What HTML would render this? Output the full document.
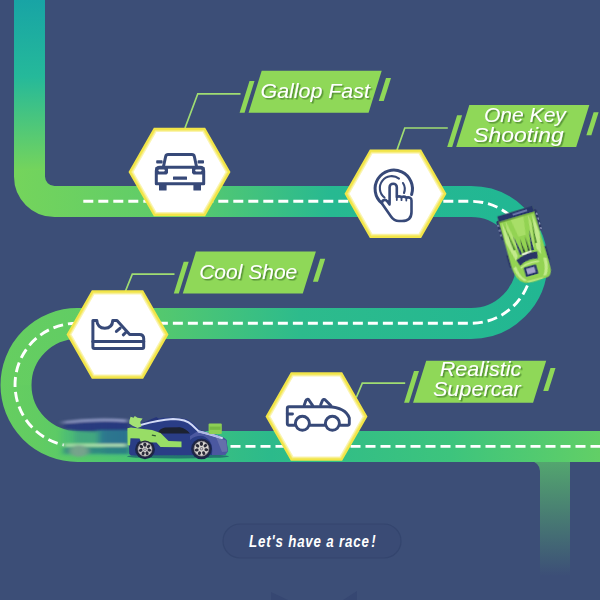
<!DOCTYPE html>
<html><head><meta charset="utf-8">
<style>
html,body{margin:0;padding:0;background:#3c4e77;}
body{width:600px;height:600px;overflow:hidden;position:relative;font-family:"Liberation Sans",sans-serif;}
svg{position:absolute;left:0;top:0;}
.lbl{font-family:"Liberation Sans",sans-serif;font-style:italic;font-size:21px;fill:#fff;}
</style></head><body>
<svg width="600" height="600" viewBox="0 0 600 600">
<defs>
  <linearGradient id="gA" x1="0" y1="0" x2="0" y2="170" gradientUnits="userSpaceOnUse">
    <stop offset="0" stop-color="#18a4a5"/><stop offset="0.45" stop-color="#25b99a"/><stop offset="1" stop-color="#74d45c"/>
  </linearGradient>
  <linearGradient id="gB" x1="0" y1="0" x2="600" y2="0" gradientUnits="userSpaceOnUse">
    <stop offset="0.03" stop-color="#74d45c"/><stop offset="0.3" stop-color="#5ccb6b"/><stop offset="0.55" stop-color="#27b991"/><stop offset="1" stop-color="#1fb694"/>
  </linearGradient>
  <linearGradient id="gC" x1="0" y1="0" x2="600" y2="0" gradientUnits="userSpaceOnUse">
    <stop offset="0" stop-color="#66ce60"/><stop offset="0.2" stop-color="#5fcc66"/><stop offset="0.5" stop-color="#2dbb8c"/><stop offset="1" stop-color="#1fb694"/>
  </linearGradient>
  <linearGradient id="gD" x1="0" y1="0" x2="600" y2="0" gradientUnits="userSpaceOnUse">
    <stop offset="0" stop-color="#66ce60"/><stop offset="0.06" stop-color="#62cc62"/><stop offset="0.2" stop-color="#4cc572"/><stop offset="0.45" stop-color="#2cba8b"/><stop offset="0.75" stop-color="#3dc47d"/><stop offset="1" stop-color="#62cf66"/>
  </linearGradient>
  <linearGradient id="gF" x1="0" y1="461" x2="0" y2="576" gradientUnits="userSpaceOnUse">
    <stop offset="0" stop-color="#5bc46c" stop-opacity="0.75"/><stop offset="1" stop-color="#5bc46c" stop-opacity="0"/>
  </linearGradient>
  <mask id="road" maskUnits="userSpaceOnUse" x="0" y="0" width="600" height="600">
    <path id="rp" d="M29.5 -20 V176.5 A25 25 0 0 0 54.5 201.5 H471 A61 61 0 0 1 471 323.5 H77.5 A61.5 61.5 0 0 0 77.5 446.5 H620" fill="none" stroke="#fff" stroke-width="31"/>
  </mask>
  <filter id="ts" x="-10%" y="-20%" width="120%" height="150%"><feDropShadow dx="1.5" dy="1.5" stdDeviation="0.6" flood-color="#3f7a2c" flood-opacity="0.75"/></filter>
</defs>
<!-- fading branch -->
<path d="M540 455 V600 H570 V455 Z" fill="url(#gF)"/>
<path d="M530 461 H540 V471 A10 10 0 0 0 530 461 Z" fill="#5bc46c" fill-opacity="0.7"/>
<!-- road -->
<g mask="url(#road)">
  <rect x="0" y="0" width="600" height="170" fill="url(#gA)"/>
  <rect x="0" y="170" width="600" height="92.5" fill="url(#gB)"/>
  <rect x="0" y="262.5" width="600" height="122.5" fill="url(#gC)"/>
  <rect x="0" y="385" width="600" height="215" fill="url(#gD)"/>
</g>
<!-- dashes -->
<g fill="none" stroke="#fff" stroke-width="2.9" stroke-dasharray="10 5">
<path d="M83.3 201.3 H471 A61 61 0 0 1 532 262.3"/>
<path d="M532 262.3 A61 61 0 0 1 471 323.3 H77.5 A61.5 61.5 0 0 0 64 445" stroke-dashoffset="6.2"/>
<path d="M230.5 446.4 H620"/>
</g>
<!-- leaders -->
<g fill="none" stroke="#a0dd72" stroke-width="1.7" stroke-linejoin="miter">
<polyline points="185,128 197.8,93.8 240.5,93.8"/>
<polyline points="397,150 404.8,128 447.8,128"/>
<polyline points="125.5,291 132.3,274.2 174.5,274.2"/>
<polyline points="356.3,397.5 362.3,383.2 405.2,383.2"/>
</g>
<!-- labels -->
<polygon points="261.70,70.80 381.70,70.80 368.57,112.80 248.57,112.80" fill="#8fd858"/>
<polygon points="249.50,81.10 254.50,81.10 244.59,112.80 239.59,112.80" fill="#8fd858"/>
<polygon points="386.00,78.00 391.00,78.00 383.78,101.10 378.78,101.10" fill="#8fd858"/>
<text class="lbl" transform="translate(315.20,97.5) scale(1.019,1)" text-anchor="middle" filter="url(#ts)">Gallop Fast</text>
<polygon points="469.30,105.00 589.30,105.00 576.17,147.00 456.18,147.00" fill="#8fd858"/>
<polygon points="457.10,115.30 462.10,115.30 452.19,147.00 447.19,147.00" fill="#8fd858"/>
<polygon points="593.60,112.20 598.60,112.20 591.38,135.30 586.38,135.30" fill="#8fd858"/>
<text class="lbl" transform="translate(524.90,122) scale(1.004,1)" text-anchor="middle" filter="url(#ts)">One Key</text>
<text class="lbl" transform="translate(518.45,142) scale(1.09,1)" text-anchor="middle" filter="url(#ts)">Shooting</text>
<polygon points="195.90,251.50 315.90,251.50 302.77,293.50 182.78,293.50" fill="#8fd858"/>
<polygon points="183.70,261.80 188.70,261.80 178.79,293.50 173.79,293.50" fill="#8fd858"/>
<polygon points="320.20,258.70 325.20,258.70 317.98,281.80 312.98,281.80" fill="#8fd858"/>
<text class="lbl" transform="translate(248.20,279.2) scale(1.0,1)" text-anchor="middle" filter="url(#ts)">Cool Shoe</text>
<polygon points="426.20,360.80 546.20,360.80 533.08,402.80 413.07,402.80" fill="#8fd858"/>
<polygon points="414.00,371.10 419.00,371.10 409.09,402.80 404.09,402.80" fill="#8fd858"/>
<polygon points="550.50,368.00 555.50,368.00 548.28,391.10 543.28,391.10" fill="#8fd858"/>
<text class="lbl" transform="translate(480.50,376) scale(1.026,1)" text-anchor="middle" filter="url(#ts)">Realistic</text>
<text class="lbl" transform="translate(476.80,396) scale(1.031,1)" text-anchor="middle" filter="url(#ts)">Supercar</text>
<!-- hexes -->
<g id="hex1"><polygon points="130.35,172.00 154.78,129.30 204.22,129.30 228.65,172.00 204.22,214.70 154.78,214.70" fill="#fff" stroke="#f2e548" stroke-width="3.2" stroke-linejoin="miter"/><polygon points="132.30,172.00 155.76,131.00 203.24,131.00 226.70,172.00 203.24,213.00 155.76,213.00" fill="none" stroke="#f8f08e" stroke-opacity="0.7" stroke-width="2.2"/><g fill="none" stroke="#374978" stroke-width="3" stroke-linejoin="round" stroke-linecap="round">
<path d="M163.4 167 L165.7 156.3 Q166.2 154.6 168 154.6 H192 Q193.8 154.6 194.3 156.3 L196.6 167"/>
<path d="M156.3 183.8 V171 Q156.3 167.3 160 167.3 H200 Q203.7 167.3 203.7 171 V183.8 Z"/>
</g>
<g fill="#374978">
<rect x="156.2" y="160.2" width="6.4" height="3.3" rx="0.8"/><rect x="197.6" y="160.2" width="6.4" height="3.3" rx="0.8"/>
<path d="M155.5 167 H168 V173 L166.5 174.5 H155.5 Z"/><path d="M204.5 167 H192 V173 L193.5 174.5 H204.5 Z"/>
<rect x="173" y="176.6" width="14" height="3.2" rx="0.4"/>
<rect x="159" y="184" width="7.6" height="6.6" rx="0.6"/><rect x="193.4" y="184" width="7.6" height="6.6" rx="0.6"/>
</g>
<g fill="#fff"><rect x="158.4" y="169.4" width="6.4" height="2" rx="0.8"/><rect x="195.2" y="169.4" width="6.4" height="2" rx="0.8"/></g></g>
<g id="hex2"><polygon points="346.35,193.75 370.78,151.05 420.22,151.05 444.65,193.75 420.22,236.45 370.78,236.45" fill="#fff" stroke="#f2e548" stroke-width="3.2" stroke-linejoin="miter"/><polygon points="348.30,193.75 371.76,152.75 419.24,152.75 442.70,193.75 419.24,234.75 371.76,234.75" fill="none" stroke="#f8f08e" stroke-opacity="0.7" stroke-width="2.2"/><g fill="none" stroke="#374978" stroke-linecap="round" stroke-linejoin="round">
<path d="M381.8 203.2 A18.7 18.7 0 1 1 411.6 194.5" stroke-width="3"/>
<path d="M384.5 197.5 A11.2 11.2 0 0 1 399 178.6" stroke-width="2.1"/>
<path d="M403 183 A11.2 11.2 0 0 1 404 193" stroke-width="2.1"/>
<path d="M389.6 203.5 V187.3 A3.6 3.6 0 0 1 396.8 187.3 V197 Q399.2 195.6 401.5 197.2 Q404 195.8 406.3 197.6 Q411.5 196.6 411.5 200.5 V212 Q411.5 221 402 221 H399 Q394 221 391 216.5 L382.3 204 Q381.3 201.5 383.5 200.2 Q385.5 199.3 387 201 L389.6 204.5" stroke-width="2.6" fill="#fff"/>
<path d="M401.5 197.3 V200.2 M406.3 197.8 V200.6 M396.8 197 V200" stroke-width="1.8"/>
</g></g>
<g id="hex3"><polygon points="68.35,334.50 92.78,291.80 142.22,291.80 166.65,334.50 142.22,377.20 92.78,377.20" fill="#fff" stroke="#f2e548" stroke-width="3.2" stroke-linejoin="miter"/><polygon points="70.30,334.50 93.76,293.50 141.24,293.50 164.70,334.50 141.24,375.50 93.76,375.50" fill="none" stroke="#f8f08e" stroke-opacity="0.7" stroke-width="2.2"/><g fill="none" stroke="#374978" stroke-width="3" stroke-linejoin="round" stroke-linecap="round">
<path d="M92.9 320.4 H96.8 C97 325.2 100 328.2 104.8 328.2 C109.6 328.2 112.5 325.2 112.8 320.4 H117 L129.7 334.4 H139.5 Q143.7 334.4 143.7 338.6 V347 Q143.7 348.4 142.3 348.4 H94.3 Q92.9 348.4 92.9 347 Z"/>
<path d="M92.9 341.6 H143.7"/>
<path d="M116.4 331.4 L120.2 328.1"/><path d="M123.3 334.8 L126.2 332"/>
</g></g>
<g id="hex4"><polygon points="267.35,416.50 291.78,373.80 341.22,373.80 365.65,416.50 341.22,459.20 291.78,459.20" fill="#fff" stroke="#f2e548" stroke-width="3.2" stroke-linejoin="miter"/><polygon points="269.30,416.50 292.76,375.50 340.24,375.50 363.70,416.50 340.24,457.50 292.76,457.50" fill="none" stroke="#f8f08e" stroke-opacity="0.7" stroke-width="2.2"/><g fill="none" stroke="#374978" stroke-width="2.9" stroke-linejoin="round" stroke-linecap="round">
<path d="M294.5 425.3 H289 Q287.3 425.3 287.3 423.6 V408.4 Q287.3 406.7 289 406.7 H328 Q345.5 407.3 349.3 418 V423.6 Q349.3 425.3 347.6 425.3 H340.5"/>
<path d="M310.3 425.3 H324.5"/>
<circle cx="302.4" cy="423.3" r="7"/><circle cx="332.4" cy="423.3" r="7"/>
<path d="M287.3 414 H292.5"/>
<path d="M304.2 405.2 L305.9 400.6 A1.7 1.7 0 0 1 308.9 400 L312.7 405.6"/>
<path d="M320.7 404.8 L322.4 400.6 A1.7 1.7 0 0 1 325.3 400 L330.8 405.6"/>
</g></g>
<!-- green car -->
<g transform="translate(523.5,241.5) rotate(-16)" filter="url(#bl2)">
<!-- wheels / side dark bits -->
<rect x="-20.8" y="-27" width="4.2" height="20" rx="1.5" fill="#2a3564"/><rect x="16.8" y="-28" width="4.4" height="22" rx="1.5" fill="#2a3564"/>
<rect x="-20.4" y="8" width="3.6" height="14" rx="1.5" fill="#2a3564"/><rect x="17.2" y="10" width="3.4" height="15" rx="1.5" fill="#2a3564"/>
<g fill="#9aa3c8"><rect x="-20.6" y="-23" width="1.2" height="2"/><rect x="-20.6" y="-18" width="1.2" height="2"/><rect x="-20.6" y="-13" width="1.2" height="2"/><rect x="19.8" y="-24" width="1.2" height="2"/><rect x="19.8" y="-19" width="1.2" height="2"/><rect x="19.8" y="-14" width="1.2" height="2"/><rect x="19.8" y="-9" width="1.2" height="2"/></g>
<!-- body -->
<path d="M-18.2 -31 L18.5 -31.8 L18.8 20 Q19.2 30 18.5 35 Q17 40 14 40.7 L2 41.5 Q-8 41.5 -11 39.5 Q-15 37 -16.5 33 Q-18.5 28 -18.6 20 Z" fill="#93d352"/>
<!-- lighter streaks -->
<path d="M-16 -25 L-9.5 12 L-12.5 17 L-17.4 -4 Z" fill="#c2ea8c"/>
<path d="M16 -25 L10.5 10 L13.5 17 L17.8 -4 Z" fill="#c2ea8c"/>
<path d="M-11.5 -25 L-6 9 L-8 9 L-13 -16 Z" fill="#b2e274"/>
<path d="M11.5 -25 L7 8 L9 8 L13 -16 Z" fill="#b2e274"/>
<path d="M-6.5 -25 L7 -25 L4 -6 L-3.5 -6 Z" fill="#a8de68"/>
<path d="M-14 22 Q-13.5 33 -7 38.5 L-10 38.5 Q-16 33 -17 23 Z" fill="#c2ea8c"/>
<path d="M14.5 21 Q14.5 32 9.5 38.5 L13 38.5 Q17.5 32 17.6 22 Z" fill="#c2ea8c"/>
<path d="M-8 39 L10 39.6 L8 41 L-6 41 Z" fill="#b6e47c"/>
<path d="M-10 24 Q-1 20 9.5 22.5 L9.5 24 Q-1 21.8 -10 25.6 Z" fill="#c2ea8c"/>
<!-- spoiler -->
<path d="M-18.4 -31.2 L18.6 -32 L18.8 -26 L-18.3 -25.2 Z" fill="#27356a"/>
<path d="M-3 -29.6 L12 -30 L12 -28.2 L-3 -27.8 Z" fill="#6f7cb0"/>
<path d="M-18.3 -25.2 L18.8 -26 L18.8 -24.8 L-18.3 -24 Z" fill="#6ea43e"/>
<!-- vents -->
<path d="M-8.5 -8 L-4.5 12 L-7.2 12 Z" fill="#27356a"/><path d="M8.5 -10 L5 11 L7.8 11 Z" fill="#27356a"/>
<path d="M-3 -4 L-1 11 L-3.2 11 Z" fill="#2f4a3a"/><path d="M3 -5 L1.6 11 L3.6 11 Z" fill="#2f4a3a"/>
<path d="M-14 -20 L-10 6 L-12 6 Z" fill="#4f8a32"/><path d="M14 -21 L10.6 5 L12.6 5 Z" fill="#4f8a32"/>
<path d="M-5.5 11.5 L5.5 10.5 L4 13.2 L-4.5 13.8 Z" fill="#eaf5da"/>
<!-- windshield -->
<path d="M-12 16 Q-1 10.5 10.5 13.5 L9 20.5 Q-1 17 -10 22.5 Z" fill="#2a3566"/>
<!-- hatch -->
<rect x="-7.3" y="25.3" width="13" height="9.6" rx="1" fill="#27356a"/>
<rect x="-5" y="27.2" width="8.4" height="5.6" fill="#a3a2cc"/>
</g>
<!-- blue car -->
<defs>
<filter id="bl" x="-20%" y="-50%" width="140%" height="200%"><feGaussianBlur stdDeviation="2.6 0.8"/></filter>
<filter id="bl2" x="-20%" y="-50%" width="140%" height="200%"><feGaussianBlur stdDeviation="0.45"/></filter>
<linearGradient id="gh" x1="56" y1="0" x2="130" y2="0" gradientUnits="userSpaceOnUse"><stop offset="0" stop-color="#fff" stop-opacity="0"/><stop offset="0.15" stop-color="#fff" stop-opacity="0.8"/><stop offset="1" stop-color="#fff" stop-opacity="1"/></linearGradient>
<mask id="ghm" maskUnits="userSpaceOnUse" x="40" y="400" width="100" height="70"><rect x="40" y="400" width="100" height="70" fill="url(#gh)"/></mask>
</defs>
<g mask="url(#ghm)"><g filter="url(#bl)">
<rect x="58" y="430" width="72" height="26" fill="#3fae83" opacity="0.55"/>
<path d="M60 421.5 Q95 416.5 127 419.5 L127 422.5 L60 423.5 Z" fill="#99a1cc"/>
<path d="M62 424 Q98 419.5 129 422.3 V432.5 H92 Q72 431 62 427.5 Z" fill="#28387f"/>
<rect x="97" y="430" width="33" height="14" fill="#2a7592"/><rect x="74" y="431" width="26" height="12" fill="#3a9a86" opacity="0.7"/><rect x="104" y="430" width="26" height="24" fill="#2a6f90" opacity="0.8"/>
<rect x="64" y="443.8" width="62" height="2.8" fill="#b9e2b6"/>
<rect x="62" y="447.2" width="68" height="6.5" fill="#2c8084" opacity="0.95"/>
<ellipse cx="79" cy="451" rx="9.5" ry="6" fill="#7d9c92"/>
</g></g>
<g filter="url(#bl2)">
<ellipse cx="178" cy="456.3" rx="51" ry="2.2" fill="#1f6a6c" opacity="0.85"/>
<!-- body -->
<path d="M129.2 454 L128.6 433 L131 427.5 L141 423.4 L155 418.8 Q172 415.8 187 419.2 Q194 423 199.5 429.8 L214 434 Q224 437 226.5 440 L227.8 451.5 L225 455 L131 455.5 Z" fill="#2b3d86"/>
<path d="M198 431 L214 434.6 Q224 437 226.5 440 L227.8 451.5 L225 455 L212 455 Q214 440 203 436 Q196 435 190 440 L190 436 Z" fill="#4c59a0"/>
<path d="M216 437 L226 440.5 L227.5 451.5 L222 452 Z" fill="#6b74ae" opacity="0.8"/>
<!-- wing top navy -->
<path d="M140.5 423.8 L156.3 417 L158.6 418.6 L157 421.5 L143 425 Z" fill="#26367a"/>
<!-- roof stripe -->
<path d="M141.5 424.8 Q158 420.2 173 419.1 Q186 419.2 192 425 L198.5 431.2 L222 438" fill="none" stroke="#d3dbf6" stroke-width="2" stroke-linecap="round"/>
<path d="M198 431.5 L212 434.5 L220 437.5" fill="none" stroke="#aeb8e4" stroke-width="2.2"/>
<!-- window -->
<path d="M157.5 433.4 Q160 428.4 165 427.6 L180 427.3 Q186 428.5 190 433.4 Z" fill="#1c2130"/>
<!-- wheel arches -->
<circle cx="145" cy="449.3" r="10" fill="#1d2750"/><circle cx="201.5" cy="448.8" r="10.4" fill="#1d2750"/>
<!-- green swoosh -->
<path d="M127.4 428.2 L131 427.4 L152 430 L160.5 433 L168.5 441 L181.5 441.4 L181.5 447.2 L160.5 447 L156.5 442.6 L141 442.3 L139.5 438.6 L130.5 438.2 L130 445.5 L127.6 445 Z" fill="#98dd66"/>
<path d="M152 434.5 l4 0.8 l-0.3 1.3 l-4 -0.9z" fill="#2f5a30"/>
<!-- fin -->
<path d="M129.4 420.5 L130.6 416.8 L133.6 417.8 L134.8 416 L137.5 417.8 L142.6 418.6 L140.2 422 L141.5 426.4 L137.5 428 L133 426 L129.2 423.6 Z" fill="#a4e274"/>
<!-- front box -->
<rect x="208.6" y="423.4" width="13.2" height="10.6" rx="1" fill="#8ccf54"/>
<rect x="209.6" y="426.6" width="11" height="3.2" fill="#76b944"/>
<g transform="translate(145,449.2)"><circle r="8.6" fill="#23263a"/><circle r="7.0" fill="#d9d6d2"/><circle r="7.0" fill="none" stroke="#8a8790" stroke-width="0.8"/>
<g fill="#2a2b38"><ellipse cx="0" cy="-4.5" rx="1.5" ry="1.9" transform="rotate(0)"/><ellipse cx="0" cy="-4.5" rx="1.5" ry="1.9" transform="rotate(51)"/><ellipse cx="0" cy="-4.5" rx="1.5" ry="1.9" transform="rotate(102)"/><ellipse cx="0" cy="-4.5" rx="1.5" ry="1.9" transform="rotate(153)"/><ellipse cx="0" cy="-4.5" rx="1.5" ry="1.9" transform="rotate(204)"/><ellipse cx="0" cy="-4.5" rx="1.5" ry="1.9" transform="rotate(255)"/><ellipse cx="0" cy="-4.5" rx="1.5" ry="1.9" transform="rotate(306)"/><ellipse cx="0" cy="-4.5" rx="1.5" ry="1.9" transform="rotate(357)"/></g><circle r="1.7" fill="#7c7a86"/><circle r="0.8" fill="#d9d6d2"/></g>
<g transform="translate(201.5,448.7)"><circle r="9" fill="#23263a"/><circle r="7.4" fill="#d9d6d2"/><circle r="7.4" fill="none" stroke="#8a8790" stroke-width="0.8"/>
<g fill="#2a2b38"><ellipse cx="0" cy="-4.9" rx="1.5" ry="1.9" transform="rotate(0)"/><ellipse cx="0" cy="-4.9" rx="1.5" ry="1.9" transform="rotate(51)"/><ellipse cx="0" cy="-4.9" rx="1.5" ry="1.9" transform="rotate(102)"/><ellipse cx="0" cy="-4.9" rx="1.5" ry="1.9" transform="rotate(153)"/><ellipse cx="0" cy="-4.9" rx="1.5" ry="1.9" transform="rotate(204)"/><ellipse cx="0" cy="-4.9" rx="1.5" ry="1.9" transform="rotate(255)"/><ellipse cx="0" cy="-4.9" rx="1.5" ry="1.9" transform="rotate(306)"/><ellipse cx="0" cy="-4.9" rx="1.5" ry="1.9" transform="rotate(357)"/></g><circle r="1.7" fill="#7c7a86"/><circle r="0.8" fill="#d9d6d2"/></g>
</g>
<!-- pill -->
<rect x="223" y="524" width="178" height="34" rx="17" fill="#3a4b75" stroke="#34456e" stroke-width="1.2"/>
<text transform="translate(312.8,546.9) scale(0.80,1)" text-anchor="middle" font-family="Liberation Sans, sans-serif" font-weight="bold" font-style="italic" font-size="16.6" letter-spacing="1.05" fill="#fff">Let's have a race<tspan dx="2">!</tspan></text>
<polygon points="271,592 271,600 288,600" fill="#364772"/>
<polygon points="357,591 357,600 343,600" fill="#364772"/>
</svg>
</body></html>
